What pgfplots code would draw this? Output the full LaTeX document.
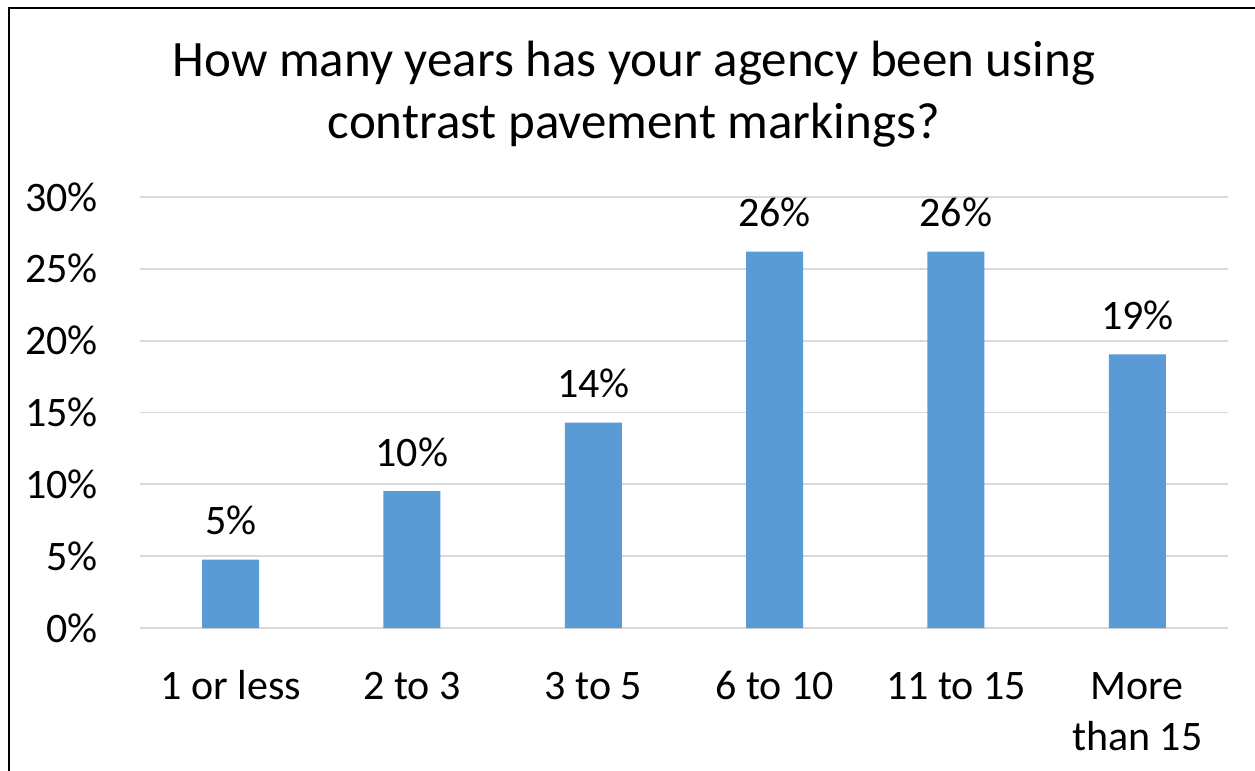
\documentclass[border=0pt]{standalone}
\usepackage{fontspec}
\setmainfont{Carlito}
\usepackage{pgfplots}
\pgfplotsset{compat=1.18}
\definecolor{barblue}{HTML}{5B9BD5}
\definecolor{gridgray}{HTML}{D9D9D9}
\newcommand{\lblfont}{\fontsize{42bp}{50.7bp}\selectfont}
\newcommand{\ttlfont}{\fontsize{51bp}{62bp}\selectfont}
\begin{document}
\begin{tikzpicture}
\useasboundingbox (-140bp,-143bp) rectangle (1115bp,628bp);
\draw[line width=2bp] (-131bp,-143bp) -- (-131bp,619.7bp) -- (1115bp,619.7bp);
\begin{axis}[
  scale only axis, width=1088bp, height=431bp,
  xmin=-0.5, xmax=5.5, ymin=0, ymax=30,
  ybar, bar width=57bp,
  axis line style={draw=none},
  tick style={draw=none},
  ymajorgrids, grid style={gridgray, line width=1.8bp},
  ytick={0,5,...,30},
  /pgf/number format/assume math mode=true,
  yticklabel={\pgfmathprintnumber{\tick}\%},
  yticklabel style={font=\lblfont, inner sep=0pt, anchor=east, xshift=-42bp},
  xtick={0,1,2,3,4,5},
  xticklabels={1 or less, 2 to 3, 3 to 5, 6 to 10, 11 to 15, {\begin{tabular}[t]{@{}c@{}}More\\than 15\end{tabular}}},
  xticklabel style={font=\lblfont, inner sep=0pt, anchor=base, yshift=-67.5bp},
  nodes near coords={\pgfmathprintnumber[fixed,precision=0]{\pgfplotspointmeta}\%},
  every node near coord/.append style={font=\lblfont, inner sep=0pt, anchor=base, yshift=25bp, black},
  title={\begin{tabular}[t]{@{}c@{}}How many years has your agency been using\\contrast pavement markings?\end{tabular}},
  title style={font=\ttlfont, inner sep=0pt, at={(axis description cs:0.454,1)}, anchor=base, yshift=115bp},
]
\addplot[fill=barblue, draw=none] coordinates {(0,4.76) (1,9.52) (2,14.29) (3,26.19) (4,26.19) (5,19.05)};
\end{axis}
\end{tikzpicture}
\end{document}
